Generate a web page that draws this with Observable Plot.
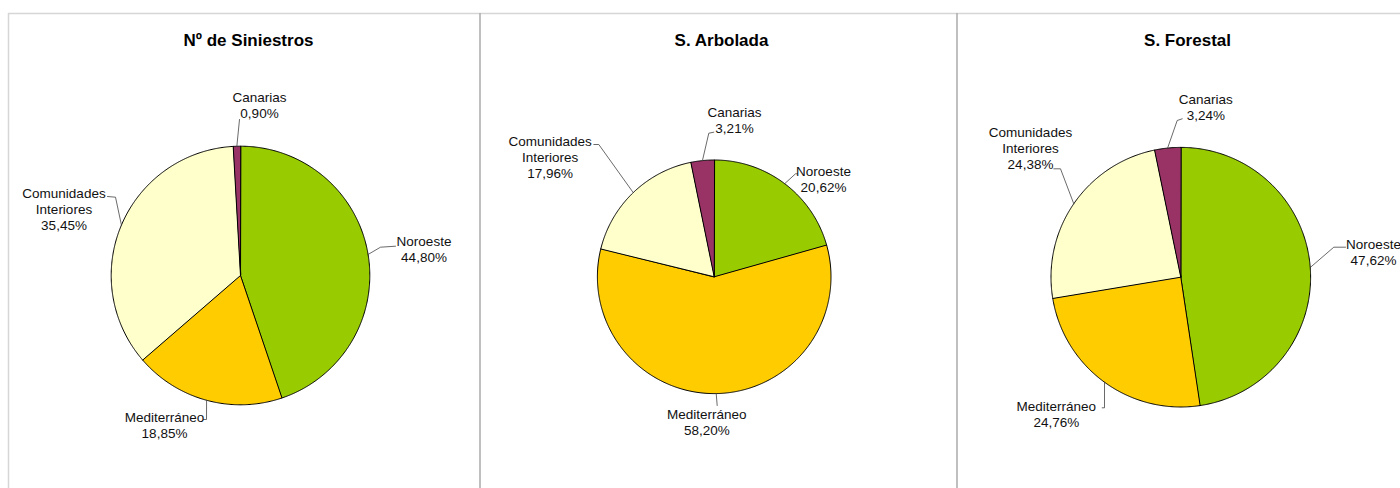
<!DOCTYPE html>
<html>
<head>
<meta charset="utf-8">
<script src="https://cdn.jsdelivr.net/npm/d3@7"></script>
<script src="https://cdn.jsdelivr.net/npm/@observablehq/plot@0.6"></script>
<style>
  html, body { margin: 0; padding: 0; background: #fff; }
  #chart { width: 1400px; height: 488px; overflow: hidden; }
</style>
</head>
<body>
<div id="chart"></div>
<script>
// ---- Data ----
const regions = ["Noroeste", "Mediterráneo", "Comunidades\nInteriores", "Canarias"];
const panelTitles = ["Nº de Siniestros", "S. Arbolada", "S. Forestal"];
const siniestros = [44.80, 18.85, 35.45, 0.90];
const arbolada = [20.62, 58.20, 17.96, 3.21];
const forestal = [47.62, 24.76, 24.38, 3.24];
const regionColors = ["#99CC00", "#FFCC00", "#FFFFCC", "#993366"];

// ---- Layout (pixels) ----
const pieLayout = [
  {cx: 240, cy: 275, r: 129.3, titleX: 248},
  {cx: 713.7, cy: 276.3, r: 116.8, titleX: 721},
  {cx: 1180.3, cy: 276.7, r: 129.8, titleX: 1187}
];
const titleY = 40;
// label block centres per panel, per region
const labelLayout = [
  [[423.5, 248], [164, 424], [63.5, 208.5], [259, 104]],
  [[823, 178.5], [706.3, 421.3], [549.7, 156.1], [734, 119]],
  [[1373, 251.7], [1055.8, 413], [1030, 147.7], [1205.3, 106.2]]
];
// leader line points after the arc anchor
const leaderLayout = [
  [[[380, 246.7], [395, 245.7]], [[206, 419], [203, 419]], [[115, 196.7], [107, 196]], [[239, 119]]],
  [[[795, 173.3], [797, 173.3]], [[716.7, 405]], [[598.3, 144], [593.3, 144]], [[708.3, 132.7], [713.3, 131.7]]],
  [[[1333.3, 246.7], [1345, 246.7]], [[1104, 407.3], [1101.7, 407.3]], [[1060, 168.3], [1053.3, 168.3]], [[1176.7, 120], [1181.7, 118.3]]]
];

const seriesList = [siniestros, arbolada, forestal];
const fmt = v => v.toFixed(2).replace(".", ",") + "%";

const slicePts = [];
const labels = [];
const leaders = [];
const titles = [];

seriesList.forEach((vals, p) => {
  const {cx, cy, r} = pieLayout[p];
  const total = d3.sum(vals);
  let acc = 0;
  titles.push({x: pieLayout[p].titleX, y: titleY, text: panelTitles[p]});
  vals.forEach((v, i) => {
    const a0 = acc / total * 2 * Math.PI;
    acc += v;
    const a1 = acc / total * 2 * Math.PI;
    const key = p + "-" + i;
    slicePts.push({key, x: cx, y: cy, fill: regionColors[i]});
    const n = Math.max(2, Math.ceil((a1 - a0) / (Math.PI / 360)));
    for (let k = 0; k <= n; k++) {
      const a = a0 + (a1 - a0) * k / n;
      slicePts.push({key, x: cx + r * Math.sin(a), y: cy - r * Math.cos(a), fill: regionColors[i]});
    }
    const am = (a0 + a1) / 2;
    const lkey = "L" + key;
    leaders.push({key: lkey, x: cx + r * Math.sin(am), y: cy - r * Math.cos(am)});
    leaderLayout[p][i].forEach(([x, y]) => leaders.push({key: lkey, x, y}));
    const [lx, ly] = labelLayout[p][i];
    labels.push({x: lx, y: ly, text: regions[i] + "\n" + fmt(v)});
  });
});

const chart = Plot.plot({
  width: 1400,
  height: 488,
  margin: 0,
  x: {domain: [0, 1400], range: [0, 1400], axis: null},
  y: {domain: [0, 488], range: [0, 488], axis: null},
  color: {type: "identity"},
  style: {fontFamily: "'Liberation Sans', Arial, sans-serif", background: "#fff"},
  marks: [
    Plot.ruleY([13], {x1: 8, x2: 1400, stroke: "#d6d6d6", strokeWidth: 1.5}),
    Plot.ruleX([8], {y1: 13, y2: 488, stroke: "#d6d6d6", strokeWidth: 1.5}),
    Plot.ruleX([479.5, 956.5], {y1: 13, y2: 488, stroke: "#ababab", strokeWidth: 1.5}),
    Plot.line(slicePts, {x: "x", y: "y", z: "key", fill: "fill", stroke: "#000", strokeWidth: 1, curve: "linear-closed", strokeLinejoin: "round"}),
    Plot.line(leaders, {x: "x", y: "y", z: "key", stroke: "#444", strokeWidth: 0.8}),
    Plot.text(labels, {x: "x", y: "y", text: "text", fontSize: 13.5, lineHeight: 1.185, fill: "#111", textAnchor: "middle", lineAnchor: "middle"}),
    Plot.text(titles, {x: "x", y: "y", text: "text", fontSize: 17, fontWeight: "bold", fill: "#000"})
  ]
});
document.getElementById("chart").appendChild(chart);
</script>
</body>
</html>
